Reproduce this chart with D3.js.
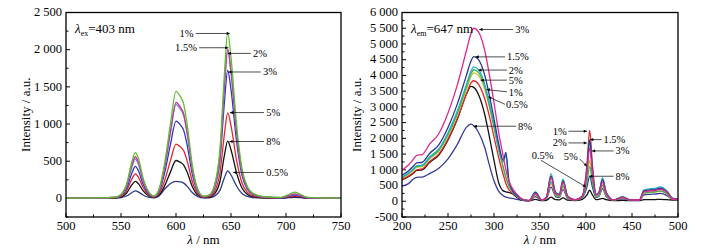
<!DOCTYPE html>
<html>
<head>
<meta charset="utf-8">
<script src="https://cdn.jsdelivr.net/npm/d3@7"></script>
<style>
  body { margin: 0; background: #fff; }
  svg { font-family: "Liberation Serif", "Times New Roman", serif; }
</style>
</head>
<body>
<div id="chart"></div>
<script>
// ---- left panel: emission, lambda_ex = 403 nm ----
const emX = [500, 530, 545, 550, 555, 560, 563, 566, 570, 575, 580, 585, 590, 595, 600, 604, 607, 610, 615, 620, 625,
             630, 635, 640, 644, 647, 650, 655, 660, 665, 670, 680, 695, 703, 708, 713, 720, 750];
const em1  = [5, 8, 17, 55, 190, 500, 620, 530, 280, 95, 33, 144, 504, 1008, 1440, 1368, 1267, 1008, 432, 115, 29,
              45, 178, 669, 1673, 2230, 1896, 1004, 401, 156, 67, 22, 14, 56, 85, 56, 14, 5];
const em15 = [5, 7, 16, 50, 170, 450, 560, 475, 250, 85, 30, 130, 450, 900, 1290, 1225, 1135, 900, 387, 103, 26,
              40, 160, 603, 1508, 2010, 1710, 905, 362, 141, 60, 20, 11, 40, 60, 40, 11, 5];
const em2  = [5, 7, 15, 47, 160, 425, 530, 450, 240, 80, 28, 126, 441, 882, 1260, 1197, 1109, 882, 378, 101, 25,
              40, 159, 597, 1493, 1990, 1692, 896, 358, 139, 60, 20, 10, 36, 55, 36, 10, 5];
const em3  = [4, 6, 13, 38, 130, 345, 430, 365, 195, 65, 23, 104, 364, 728, 1040, 988, 915, 728, 312, 83, 21,
              34, 138, 516, 1290, 1720, 1462, 774, 310, 120, 52, 17, 8, 30, 45, 30, 8, 4];
const em5  = [4, 5, 10, 30, 100, 265, 330, 280, 150, 50, 18, 73, 256, 511, 730, 694, 642, 511, 219, 58, 15,
              23, 92, 345, 863, 1150, 978, 518, 207, 81, 35, 12, 6, 23, 35, 23, 6, 4];
const em8  = [3, 4, 8, 20, 70, 185, 230, 195, 105, 35, 12, 51, 179, 357, 510, 485, 449, 357, 153, 41, 10,
              15, 62, 231, 578, 770, 655, 347, 139, 54, 23, 8, 5, 17, 25, 17, 5, 3];
const em05 = [2, 3, 5, 10, 32, 80, 100, 85, 46, 16, 8, 40, 130, 200, 230, 222, 205, 165, 75, 22, 6,
              8, 30, 111, 278, 370, 315, 167, 67, 26, 11, 4, 3, 10, 15, 10, 3, 2];
const emNames  = ["0.5%", "8%", "5%", "3%", "2%", "1.5%", "1%"];
const emValues = [em05, em8, em5, em3, em2, em15, em1];
const emColors = ["#2d3c8c", "#111111", "#e3262b", "#3036c4", "#8a86df", "#c23a98", "#5cc030"];
// annotations: label, tip x, tip y, line end x, line end y, text x, text y, anchor
const emNotes = [
  ["1%",   649,   2218, 618,  2218, 616,  2218, "end"],
  ["1.5%", 647.6, 2026, 621,  2026, 619,  2026, "end"],
  ["2%",   647,   1950, 668,  1950, 670,  1950, "start"],
  ["3%",   647.6, 1700, 677,  1700, 679,  1700, "start"],
  ["5%",   649,   1154, 680,  1154, 682,  1154, "start"],
  ["8%",   648.5, 765,  680,  765,  682,  765,  "start"],
  ["0.5%", 652,   349,  680,  349,  682,  349,  "start"]
];

// ---- right panel: excitation, lambda_em = 647 nm ----
const exX = [200, 207, 212, 216, 222, 230, 240, 250, 260, 270, 275, 278, 283, 290, 295, 300, 305, 310, 313, 316,
             320, 325, 330, 338, 345, 352, 357, 362, 367, 371, 375, 380, 388, 396, 401, 404, 407, 411, 414, 418,
             422, 430, 440, 448, 458, 463, 470, 475, 481, 488, 494, 500];
const ex3  = [990, 1155, 1320, 1460, 1485, 1815, 2145, 2805, 3685, 4785, 5335, 5500, 5390, 4785, 4015, 3135, 2200, 1430, 990, 660,
              410, 220, 80, 25, 250, 40, 120, 750, 250, 200, 600, 150, 40, 150, 900, 1700, 900, 200, 250, 600,
              250, 40, 120, 40, 40, 300, 330, 340, 380, 280, 80, 60];
const ex15 = [830, 965, 1105, 1220, 1240, 1520, 1795, 2345, 3080, 4000, 4460, 4600, 4510, 4000, 3360, 2620, 1840, 1300, 1550, 700,
              345, 185, 70, 20, 280, 40, 130, 800, 260, 210, 650, 160, 40, 160, 1000, 1950, 1000, 210, 270, 680,
              270, 40, 130, 40, 40, 330, 360, 370, 420, 300, 90, 60];
const ex2  = [770, 895, 1025, 1130, 1150, 1410, 1665, 2180, 2860, 3715, 4140, 4270, 4185, 3715, 3120, 2435, 1710, 1250, 1450, 650,
              320, 170, 65, 20, 300, 45, 140, 880, 280, 230, 700, 170, 45, 170, 1000, 1950, 1000, 230, 290, 750,
              290, 45, 150, 45, 45, 360, 400, 410, 460, 330, 100, 70];
const ex5  = [750, 880, 1000, 1110, 1130, 1380, 1630, 2130, 2800, 3640, 4055, 4180, 4095, 3635, 3050, 2380, 1670, 1090, 750, 500,
              315, 165, 63, 20, 220, 35, 100, 620, 200, 165, 500, 125, 35, 120, 600, 1100, 600, 165, 200, 520,
              200, 35, 100, 35, 35, 260, 290, 300, 330, 240, 75, 55];
const exY  = [735, 855, 980, 1080, 1100, 1345, 1590, 2080, 2735, 3550, 3960, 4080, 4000, 3550, 2980, 2325, 1630, 1060, 735, 490,
              305, 165, 60, 20, 200, 35, 95, 560, 185, 150, 450, 115, 35, 130, 700, 1300, 700, 150, 185, 480,
              185, 35, 100, 35, 35, 250, 280, 290, 320, 230, 70, 50];
const ex1  = [700, 800, 900, 1000, 1030, 1265, 1500, 1980, 2620, 3400, 3760, 3830, 3720, 3250, 2700, 2050, 1400, 850, 560, 380,
              260, 150, 55, 20, 260, 40, 130, 800, 260, 210, 650, 160, 40, 170, 1150, 2250, 1150, 210, 270, 700,
              270, 40, 130, 40, 40, 320, 350, 360, 400, 290, 85, 60];
const ex05 = [680, 780, 880, 980, 1000, 1230, 1470, 1950, 2600, 3400, 3650, 3620, 3400, 2750, 2050, 1300, 600, 330, 300, 280,
              240, 120, 40, 15, 60, 20, 30, 130, 50, 45, 110, 35, 20, 60, 200, 350, 200, 50, 60, 90,
              50, 20, 30, 20, 20, 50, 55, 55, 60, 50, 40, 35];
const ex8  = [480, 560, 700, 760, 770, 880, 1050, 1350, 1800, 2350, 2450, 2400, 2200, 1700, 1150, 650, 320, 180, 130, 110,
              90, 60, 30, 15, 150, 30, 75, 450, 150, 125, 370, 95, 30, 120, 450, 800, 450, 125, 150, 400,
              150, 30, 80, 30, 30, 200, 220, 230, 250, 180, 60, 45];
const exNames  = ["8%", "0.5%", "1%", "", "5%", "2%", "1.5%", "3%"];
const exValues = [ex8, ex05, ex1, exY, ex5, ex2, ex15, ex3];
const exColors = ["#3a3a9e", "#111111", "#e3262b", "#c2c232", "#3fae55", "#1fb3c6", "#2c3590", "#e0298f"];
const exNotes = [
  ["3%",   284,   5460, 321,   5460, 323,   5460, "start"],
  ["1.5%", 280,   4590, 312,   4590, 314,   4590, "start"],
  ["2%",   283,   4170, 314,   4170, 316,   4170, "start"],
  ["5%",   285.5, 3850, 314,   3850, 316,   3850, "start"],
  ["1%",   292,   3550, 314,   3480, 316,   3470, "start"],
  ["0.5%", 293.8, 3320, 312,   3080, 313,   3060, "start"],
  ["8%",   278,   2385, 324,   2385, 326,   2385, "start"],
  ["1%",   401,   2226, 381,   2226, 379,   2226, "end"],
  ["2%",   401,   1855, 381,   1855, 379,   1855, "end"],
  ["1.5%", 404.5, 1960, 417,   1960, 419,   1960, "start"],
  ["3%",   406.5, 1600, 430,   1600, 432,   1600, "start"],
  ["5%",   401,   1110, 393,   1350, 391,   1410, "end"],
  ["8%",   403.5, 795,  430,   795,  432,   795,  "start"],
  ["0.5%", 400,   455,  351,   1304, 341,   1460, "start"]
];

const width = 712, height = 250;
const svg = d3.select("#chart").append("svg")
    .attr("width", width)
    .attr("height", height);

const spaceFmt = d3.formatLocale({decimal: ".", thousands: " ", grouping: [3], currency: ["", ""], minus: "-"}).format(",d");

svg.append("defs").append("marker")
    .attr("id", "arrow")
    .attr("viewBox", "0 0 10 10")
    .attr("refX", 10).attr("refY", 5)
    .attr("markerWidth", 5).attr("markerHeight", 4)
    .attr("orient", "auto")
    .append("path")
    .attr("d", "M0,0L10,5L0,10Z")
    .attr("fill", "#000");

function drawPanel(opt) {
    const {left, right, top, bottom, xDomain, yDomain, xTicks, yTicks, xMinor, yMinor,
           xs, values, colors, notes, sub, subText, id} = opt;

    const x = d3.scaleLinear().domain(xDomain).range([left, right]);
    const y = d3.scaleLinear().domain(yDomain).range([bottom, top]);
    const g = svg.append("g");

    g.append("clipPath").attr("id", id)
        .append("rect")
        .attr("x", left).attr("y", top)
        .attr("width", right - left).attr("height", bottom - top);

    // ticks pointing inward
    const tickG = g.append("g").attr("stroke", "#000").attr("stroke-width", 1);
    xMinor.forEach(v => {
        const len = xTicks.includes(v) ? 4 : 2.5;
        tickG.append("line").attr("x1", x(v)).attr("x2", x(v)).attr("y1", bottom).attr("y2", bottom - len);
    });
    yMinor.forEach(v => {
        const len = yTicks.includes(v) ? 4 : 2.5;
        tickG.append("line").attr("x1", left).attr("x2", left + len).attr("y1", y(v)).attr("y2", y(v));
    });

    g.append("g").selectAll("text")
        .data(xTicks).enter().append("text")
        .attr("x", d => x(d))
        .attr("y", bottom + 13)
        .attr("text-anchor", "middle")
        .attr("font-size", 12.5)
        .text(d => d);

    g.append("g").selectAll("text")
        .data(yTicks).enter().append("text")
        .attr("x", left - 4)
        .attr("y", d => y(d) + 3.8)
        .attr("text-anchor", "end")
        .attr("font-size", 12.5)
        .text(d => spaceFmt(d));

    // curves
    const line = d3.line()
        .x((d, i) => x(xs[i]))
        .y(d => y(d))
        .curve(d3.curveMonotoneX);
    g.append("g").attr("clip-path", `url(#${id})`)
        .selectAll("path")
        .data(values).enter().append("path")
        .attr("d", d => line(d))
        .attr("fill", "none")
        .attr("stroke", (d, i) => colors[i])
        .attr("stroke-width", 1.3);

    // frame
    g.append("rect")
        .attr("x", left).attr("y", top)
        .attr("width", right - left).attr("height", bottom - top)
        .attr("fill", "none")
        .attr("stroke", "#000")
        .attr("stroke-width", 1.3);

    // annotations
    const ng = g.append("g");
    notes.forEach(n => {
        const [label, tx, ty, lx, ly, txtX, txtY, anchor] = n;
        ng.append("line")
            .attr("x1", x(lx)).attr("y1", y(ly))
            .attr("x2", x(tx)).attr("y2", y(ty))
            .attr("stroke", "#222")
            .attr("stroke-width", 0.8)
            .attr("marker-end", "url(#arrow)");
        ng.append("text")
            .attr("x", x(txtX)).attr("y", y(txtY) + 3.5)
            .attr("text-anchor", anchor)
            .attr("font-size", 10.5)
            .text(label);
    });

    // condition label
    const t = g.append("text")
        .attr("x", left + 9).attr("y", top + 20)
        .attr("font-size", 13);
    t.append("tspan").attr("font-style", "italic").text("λ");
    t.append("tspan").attr("font-size", 8).attr("dy", 3).text(sub);
    t.append("tspan").attr("dy", -3).text(subText);

    // axis titles
    const xt = g.append("text")
        .attr("x", (left + right) / 2).attr("y", 244)
        .attr("text-anchor", "middle")
        .attr("font-size", 13);
    xt.append("tspan").attr("font-style", "italic").text("λ");
    xt.append("tspan").text(" / nm");

    g.append("text")
        .attr("transform", `translate(${opt.yTitleX},${(top + bottom) / 2}) rotate(-90)`)
        .attr("text-anchor", "middle")
        .attr("font-size", 13)
        .text("Intensity / a.u.");
}

drawPanel({
    id: "clipL", left: 66, right: 341, top: 12.5, bottom: 217, yTitleX: 30,
    xDomain: [500, 750], yDomain: [-250, 2500],
    xTicks: d3.range(500, 751, 50), yTicks: d3.range(0, 2501, 500),
    xMinor: d3.range(500, 751, 25), yMinor: d3.range(-250, 2501, 250),
    xs: emX, values: emValues, colors: emColors, notes: emNotes,
    sub: "ex", subText: "=403 nm"
});

drawPanel({
    id: "clipR", left: 402, right: 678, top: 12.5, bottom: 217, yTitleX: 361,
    xDomain: [200, 500], yDomain: [-500, 6000],
    xTicks: d3.range(200, 501, 50), yTicks: d3.range(-500, 6001, 500),
    xMinor: d3.range(200, 501, 25), yMinor: d3.range(-500, 6001, 250),
    xs: exX, values: exValues, colors: exColors, notes: exNotes,
    sub: "em", subText: "=647 nm"
});
</script>
</body>
</html>
